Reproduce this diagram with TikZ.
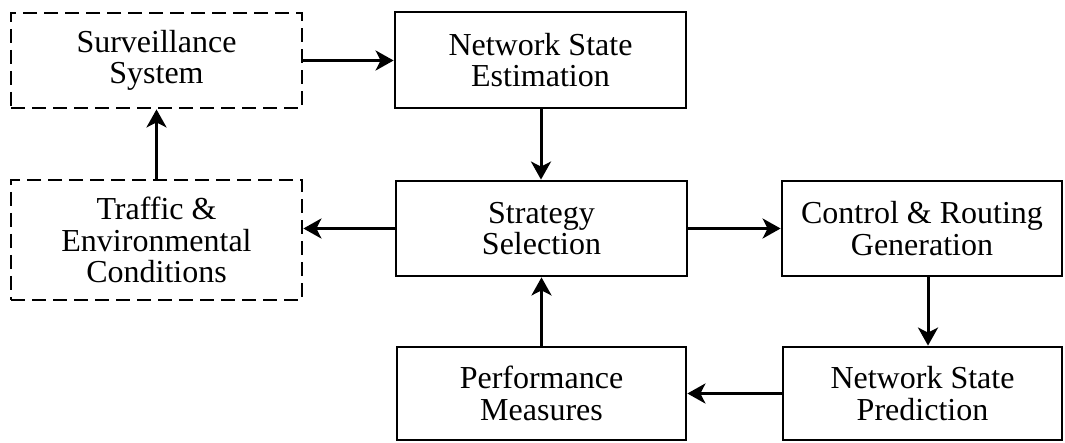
\documentclass[tikz,border=0pt]{standalone}
\usepackage{fontspec}
\setmainfont{Liberation Serif}
\usetikzlibrary{arrows.meta}
\begin{document}
\begin{tikzpicture}[x=1pt,y=-1pt,
  box/.style={draw=black, line width=2.8pt, rectangle, align=center, inner sep=0pt,
    font=\fontsize{32}{31.5}\selectfont},
  dbox/.style={box, dash pattern=on 14pt off 7pt},
  arr/.style={line width=3pt, -{Stealth[length=18pt,width=20pt,inset=5pt]}}]
\useasboundingbox (0,0) rectangle (1065,443);
\node[dbox, minimum width=291pt, minimum height=95pt] (surv) at (156.5,60.5) {Surveillance\\System};
\node[dbox, minimum width=291pt, minimum height=120pt] (traf) at (156.5,240) {Traffic \&\\Environmental\\Conditions};
\node[box, minimum width=291pt, minimum height=96pt] (nse) at (540.5,60) {Network State\\Estimation};
\node[box, minimum width=291pt, minimum height=95pt] (strat) at (541.5,228.5) {Strategy\\Selection};
\node[box, minimum width=280pt, minimum height=95pt] (ctrl) at (922,228.5) {Control \& Routing\\Generation};
\node[box, minimum width=289pt, minimum height=93pt] (perf) at (541.5,393.5) {Performance\\Measures};
\node[box, minimum width=279pt, minimum height=93pt] (nsp) at (922.5,393.5) {Network State\\Prediction};
\draw[arr] (surv.east) -- (surv.east -| nse.west);
\draw[arr] (traf.north) -- (surv.south);
\draw[arr] ([xshift=0.5pt]nse.south) -- ([xshift=0.5pt]nse.south |- strat.north);
\draw[arr] (strat.west) -- (strat.west -| traf.east);
\draw[arr] (strat.east) -- (ctrl.west);
\draw[arr] ([xshift=6pt]ctrl.south) -- ([xshift=6pt]ctrl.south |- nsp.north);
\draw[arr] (nsp.west) -- (perf.east);
\draw[arr] (perf.north) -- (strat.south);
\end{tikzpicture}
\end{document}
